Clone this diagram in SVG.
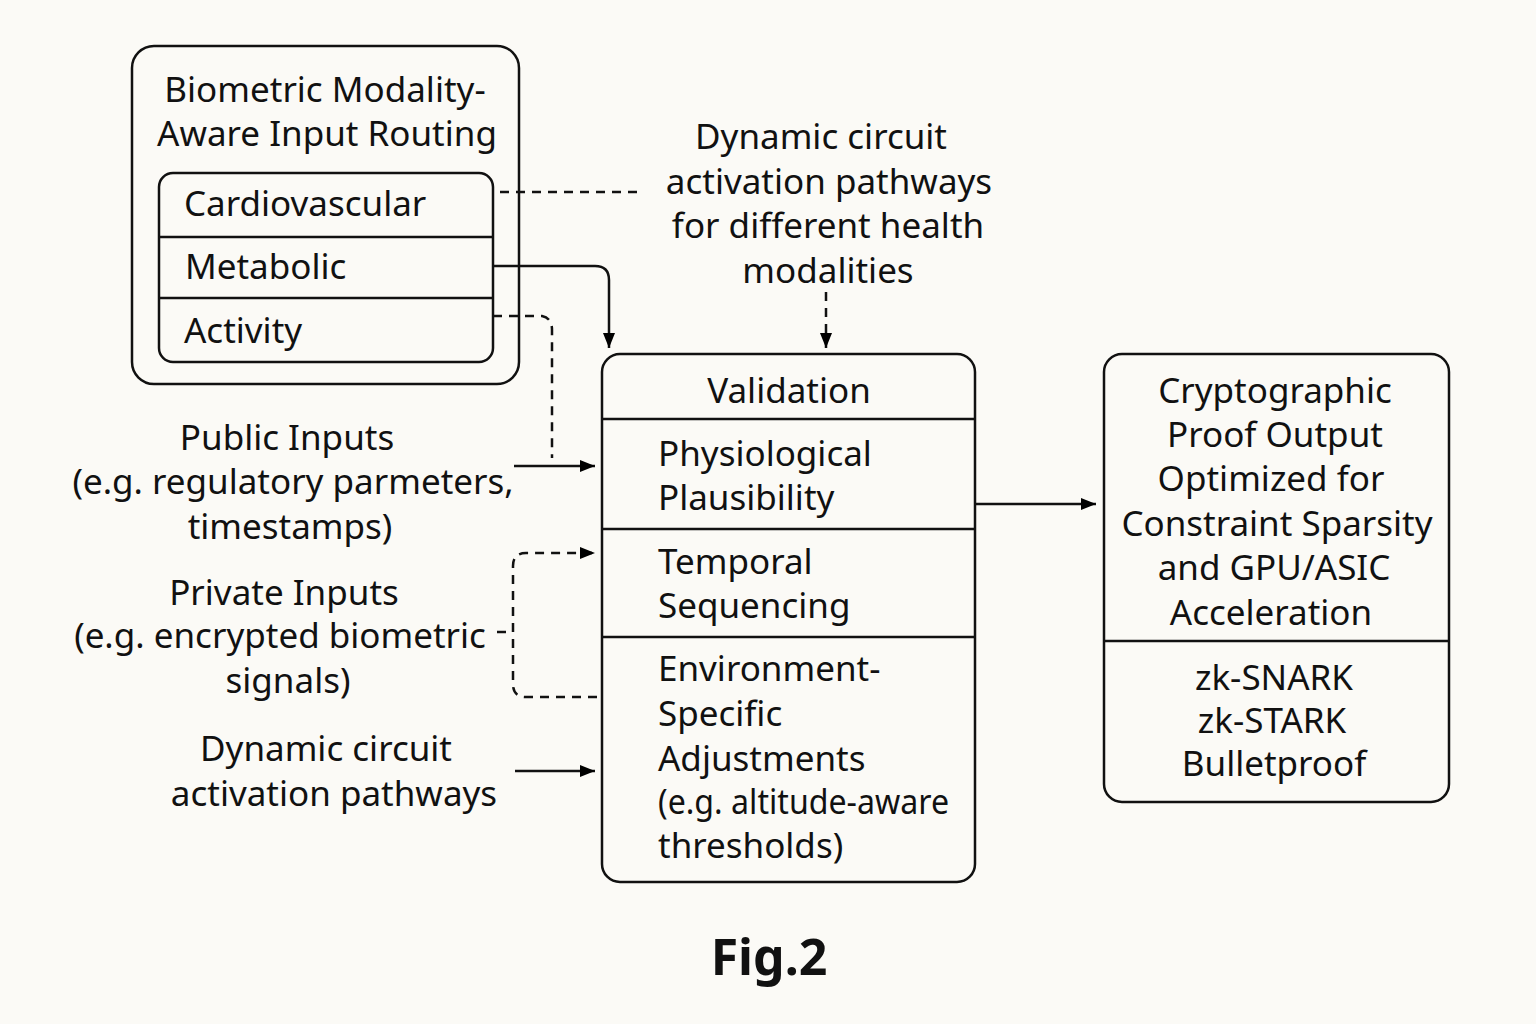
<svg xmlns="http://www.w3.org/2000/svg" width="1536" height="1024" viewBox="0 0 1536 1024">
<defs>
<marker id="ah" viewBox="0 0 15 12" refX="15" refY="6" markerWidth="15" markerHeight="12" markerUnits="userSpaceOnUse" orient="auto">
<path d="M0,0 L15,6 L0,12 Z" fill="#000"/>
</marker>
<style>
text{font-family:"Noto Sans","Liberation Sans",sans-serif;font-size:35px;fill:#111}
.c{text-anchor:middle}
.box{fill:none;stroke:#111;stroke-width:2.5}
.ln{fill:none;stroke:#111;stroke-width:2.5}
.d{stroke-dasharray:9 7}
.fig{font-size:50px;font-weight:bold}
</style>
</defs>
<rect width="1536" height="1024" fill="#fbfaf6"/>
<g id="routing">
<rect class="box" x="132" y="46" width="387" height="338" rx="22"/>
<text class="c" x="325" y="102">Biometric Modality-</text>
<text class="c" x="327" y="146">Aware Input Routing</text>
<rect class="box" x="159" y="173" width="334" height="189" rx="14"/>
<line class="ln" x1="159" y1="237" x2="493" y2="237"/>
<line class="ln" x1="159" y1="298" x2="493" y2="298"/>
<text x="184" y="216">Cardiovascular</text>
<text x="185" y="279">Metabolic</text>
<text x="184" y="343">Activity</text>
</g>
<g id="dyn-top">
<text class="c" x="821" y="149">Dynamic circuit</text>
<text class="c" x="829" y="194">activation pathways</text>
<text class="c" x="828" y="238">for different health</text>
<text class="c" x="828" y="283">modalities</text>
</g>
<g id="public">
<text class="c" x="287" y="450">Public Inputs</text>
<text class="c" x="293" y="494">(e.g. regulatory parmeters,</text>
<text class="c" x="290" y="539">timestamps)</text>
</g>
<g id="private">
<text class="c" x="284" y="605">Private Inputs</text>
<text class="c" x="280" y="648">(e.g. encrypted biometric</text>
<text class="c" x="288" y="693">signals)</text>
</g>
<g id="dyn-left">
<text class="c" x="326" y="761">Dynamic circuit</text>
<text class="c" x="334" y="806">activation pathways</text>
</g>
<g id="validation">
<rect class="box" x="602" y="354" width="373" height="528" rx="18"/>
<line class="ln" x1="602" y1="419" x2="975" y2="419"/>
<line class="ln" x1="602" y1="529" x2="975" y2="529"/>
<line class="ln" x1="602" y1="637" x2="975" y2="637"/>
<text class="c" x="789" y="403">Validation</text>
<text x="658" y="466">Physiological</text>
<text x="658" y="510">Plausibility</text>
<text x="658" y="574">Temporal</text>
<text x="658" y="618">Sequencing</text>
<text x="658" y="681">Environment-</text>
<text x="658" y="726">Specific</text>
<text x="658" y="771">Adjustments</text>
<text x="658" y="814" textLength="291" lengthAdjust="spacingAndGlyphs">(e.g. altitude-aware</text>
<text x="658" y="858">thresholds)</text>
</g>
<g id="proof">
<rect class="box" x="1104" y="354" width="345" height="448" rx="18"/>
<line class="ln" x1="1104" y1="641" x2="1449" y2="641"/>
<text class="c" x="1275" y="403">Cryptographic</text>
<text class="c" x="1275" y="447">Proof Output</text>
<text class="c" x="1271" y="491">Optimized for</text>
<text class="c" x="1277" y="536">Constraint Sparsity</text>
<text class="c" x="1274" y="580">and GPU/ASIC</text>
<text class="c" x="1271" y="625">Acceleration</text>
<text class="c" x="1274" y="690">zk-SNARK</text>
<text class="c" x="1272" y="733">zk-STARK</text>
<text class="c" x="1274" y="776">Bulletproof</text>
</g>
<g id="connectors">
<line class="ln d" x1="500" y1="192" x2="643" y2="192"/>
<path class="ln" d="M493,266 H595 Q609,266 609,280 V348" marker-end="url(#ah)"/>
<path class="ln d" d="M493,316 H542 Q552,318 552,330 V458"/>
<line class="ln" x1="514" y1="466" x2="595" y2="466" marker-end="url(#ah)"/>
<path class="ln d" d="M497,632 H513"/>
<path class="ln d" d="M597,697 H526 Q513,697 513,684 V566 Q513,553 526,553 H595" marker-end="url(#ah)"/>
<line class="ln" x1="515" y1="771" x2="595" y2="771" marker-end="url(#ah)"/>
<line class="ln d" x1="826" y1="292" x2="826" y2="348" marker-end="url(#ah)"/>
<line class="ln" x1="975" y1="504" x2="1096" y2="504" marker-end="url(#ah)"/>
</g>
<text class="c fig" x="769" y="975">Fig.2</text>
</svg>
